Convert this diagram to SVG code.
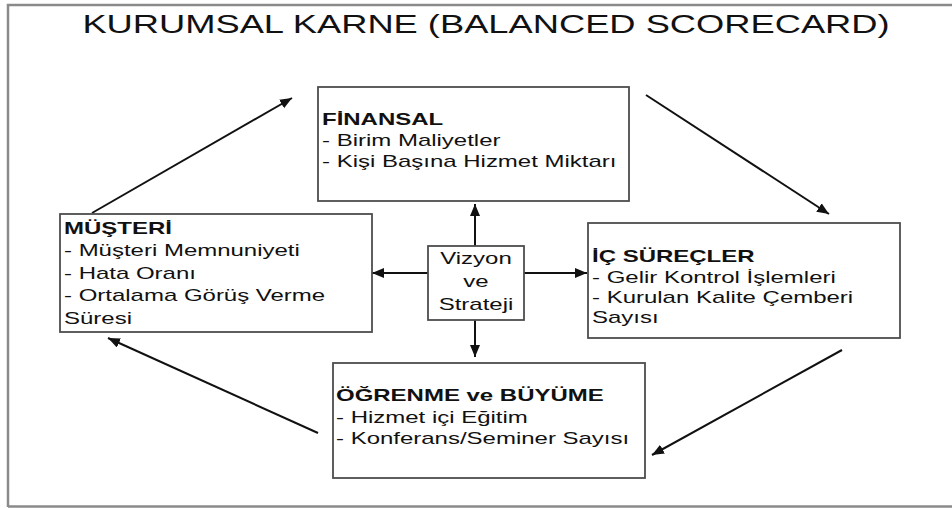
<svg xmlns="http://www.w3.org/2000/svg" width="952" height="508" viewBox="0 0 952 508">
<defs>
<style>
.frame{fill:none;stroke:#8a8a8a;stroke-width:2.5}
.box{fill:#fff;stroke:#4d4d4d;stroke-width:1.8}
.t{font-family:"Liberation Sans",Arial,sans-serif;font-size:16px;fill:#111}
.b{font-weight:bold}
.title{font-family:"Liberation Sans",Arial,sans-serif;font-size:26.5px;fill:#111}
.conn line{stroke:#111;stroke-width:2;fill:none;marker-end:url(#arr)}
</style>
<marker id="arr" markerUnits="userSpaceOnUse" markerWidth="13" markerHeight="11" refX="12" refY="5" orient="auto">
<path d="M0,0 L12,5 L0,10 z" fill="#111"/>
</marker>
</defs>
<rect width="952" height="508" fill="#fff"/>
<path class="frame" d="M8,507 L8,5 L952,5 M8,506.5 L952,506.5"/>
<text class="title" text-anchor="middle" transform="translate(486,33) scale(1.37,1)">KURUMSAL KARNE (BALANCED SCORECARD)</text>
<g class="conn">
<line x1="92" y1="213" x2="292" y2="98"/>
<line x1="646" y1="95" x2="829" y2="214"/>
<line x1="842" y1="350" x2="652" y2="455"/>
<line x1="318" y1="433" x2="108" y2="338"/>
<line x1="475" y1="246" x2="475" y2="204"/>
<line x1="475" y1="320" x2="475" y2="357"/>
<line x1="428" y1="273" x2="372" y2="273"/>
<line x1="524" y1="273" x2="587" y2="273"/>
</g>
<g id="finansal">
<rect class="box" x="318" y="87" width="311" height="114"/>
<text class="t" transform="translate(322,125) scale(1.5,1)"><tspan class="b" x="0" y="0">FİNANSAL</tspan><tspan x="0" y="21">- Birim Maliyetler</tspan><tspan x="0" y="42">- Kişi Başına Hizmet Miktarı</tspan></text>
</g>
<g id="musteri">
<rect class="box" x="60" y="214" width="312" height="118"/>
<text class="t" transform="translate(64,234) scale(1.5,1)"><tspan class="b" x="0" y="0">MÜŞTERİ</tspan><tspan x="0" y="22.5">- Müşteri Memnuniyeti</tspan><tspan x="0" y="45">- Hata Oranı</tspan><tspan x="0" y="67.5">- Ortalama Görüş Verme</tspan><tspan x="0" y="90">Süresi</tspan></text>
</g>
<g id="vizyon">
<rect class="box" x="428" y="246" width="96" height="74"/>
<text class="t" text-anchor="middle" transform="translate(476,264) scale(1.5,1)"><tspan x="0" y="0">Vizyon</tspan><tspan x="0" y="23">ve</tspan><tspan x="0" y="46">Strateji</tspan></text>
</g>
<g id="icsurecler">
<rect class="box" x="588" y="223" width="312" height="115"/>
<text class="t" transform="translate(592,262) scale(1.5,1)"><tspan class="b" x="0" y="0">İÇ SÜREÇLER</tspan><tspan x="0" y="21">- Gelir Kontrol İşlemleri</tspan><tspan x="0" y="41">- Kurulan Kalite Çemberi</tspan><tspan x="0" y="61">Sayısı</tspan></text>
</g>
<g id="ogrenme">
<rect class="box" x="333" y="363" width="312" height="115"/>
<text class="t" transform="translate(336,401) scale(1.5,1)"><tspan class="b" x="0" y="0">ÖĞRENME ve BÜYÜME</tspan><tspan x="0" y="22">- Hizmet içi Eğitim</tspan><tspan x="0" y="43">- Konferans/Seminer Sayısı</tspan></text>
</g>
</svg>
